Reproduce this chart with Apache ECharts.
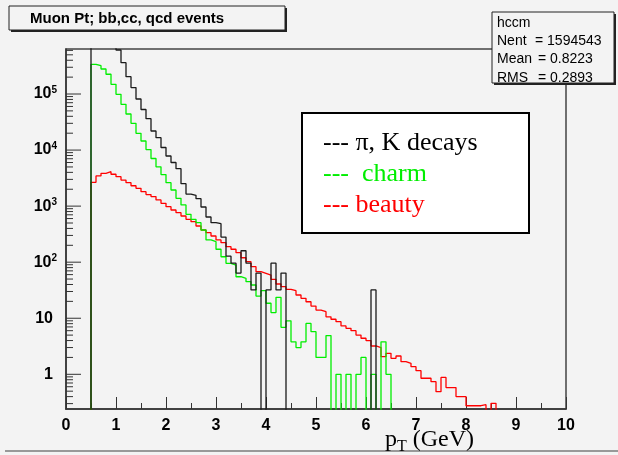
<!DOCTYPE html>
<html><head><meta charset="utf-8">
<script src="https://cdn.jsdelivr.net/npm/echarts@6/dist/echarts.min.js"></script>
<style>html,body{margin:0;padding:0;background:#f3f3f3;} #c{width:618px;height:455px;}</style>
</head><body><div id="c"></div><script>
// Histogram binning (GeV)
const binStart = 0.5;
const binWidth = 0.1;
// pi, K decays (black) — first bins are above the drawn range
const piKValues = [1.5e6, 1.6e6, 1.5e6, 1.25e6, 9.2e5, 6.1e5, 3.62e5, 2.04e5, 1.30e5, 8.15e4,
  5.29e4, 3.63e4, 2.19e4, 1.66e4, 1.11e4, 7840, 6000, 4650, 2510, 1640,
  1560, 1360, 964, 640, 506, 486, 281, 128, 96, 64,
  160, 96, 32, 64, 0, 32, 96, 32, 64, 0,
  0, 0, 0, 0, 0, 0, 0, 0, 0, 0,
  0, 0, 0, 0, 0, 0, 32];
// charm (green)
const charmValues = [3.39e5, 3.20e5, 2.79e5, 2.25e5, 1.49e5, 9.88e4, 6.55e4, 4.40e4, 3.0e4, 1.99e4,
  1.45e4, 1.02e4, 7070, 5020, 3660, 2620, 1940, 1380, 1050, 715,
  582, 506, 375, 249, 232, 170, 125, 95.5, 89, 55,
  51.5, 44.9, 39.2, 24.9, 31, 18.5, 12.6, 23.6, 6.9, 9.0,
  3.8, 3.0, 3.8, 8.1, 5.75, 2.0, 2.0, 4.9, 0, 1,
  0, 1, 0, 1, 2, 0, 1, 0, 3.8, 1];
// beauty (red)
const beautyValues = [2660, 3450, 3850, 4110, 3700, 3350, 2920, 2620, 2310, 2080,
  1810, 1610, 1480, 1290, 1120, 977, 853, 764, 667, 582,
  527, 442, 375, 336, 293, 249, 223, 189, 170, 148,
  120, 102, 83, 67.6, 63.3, 59, 49.5, 40.8, 36.5, 32.8,
  31, 26, 22.7, 19.7, 16.5, 14.0, 13.1, 10.6, 9.6, 8.7,
  7.3, 6.6, 6.0, 5.0, 4.4, 4.0, 3.2, 3.0, 2.06, 2.37,
  1.93, 2.12, 1.68, 1.57, 1.37, 1.16, 0.85, 0.85, 0.74, 0.49,
  0.88, 0.58, 0.58, 0.40, 0.40, 0.275, 0.275, 0.275, 0.287, 0,
  0.304];
// axes
const xMin = 0, xMax = 10, xStep = 1;
const yMin = 0.2405, yMax = 6.35e5;
const yMajorTicks = [1, 10, 100, 1000, 10000, 100000];
const yMinorMultipliers = [2, 3, 4, 5, 6, 7, 8, 9];
const yDecades = [-1, 0, 1, 2, 3, 4, 5];
// texts
const titleText = 'Muon Pt; bb,cc, qcd events';
const statsName = 'hccm';
const statsRows = [['Nent', '= 1594543'], ['Mean', '= 0.8223'], ['RMS', '= 0.2893']];
const legendRows = [['--- \u03c0, K decays', '#000000'], ['---  charm', '#00ee00'], ['--- beauty', '#ff0000']];

const FLOOR = 1e-3; // empty bins drop below the axis floor (log scale cannot show 0)
function histPoints(vals) {
  const pts = [[binStart, FLOOR]];
  vals.forEach((v, i) => {
    const lo = +(binStart + i * binWidth).toFixed(3);
    const hi = +(binStart + (i + 1) * binWidth).toFixed(3);
    const y = v > 0 ? v : FLOOR;
    pts.push([lo, y]); pts.push([hi, y]);
  });
  pts.push([+(binStart + vals.length * binWidth).toFixed(3), FLOOR]);
  return pts;
}

const tickData = [];
yMajorTicks.forEach(v => tickData.push([0, v, 1]));
yDecades.forEach(e => yMinorMultipliers.forEach(m => {
  const v = m * Math.pow(10, e);
  if (v >= yMin && v <= yMax) tickData.push([0, v, 0]);
}));

const chart = echarts.init(document.getElementById('c'), null, {renderer: 'canvas'});
const sansB = 'bold 15px "Liberation Sans", Arial, sans-serif';
const statFont = '14px "Liberation Sans", Arial, sans-serif';
const serif26 = '26px "Liberation Serif", "Times New Roman", serif';

function hist(name, vals, color, z) {
  return {
    name, type: 'line', data: histPoints(vals), symbol: 'none', clip: true,
    lineStyle: {color, width: 1.3}, z, animation: false, silent: true
  };
}

chart.setOption({
  backgroundColor: '#f3f3f3',
  animation: false,
  grid: {left: 66, right: 52, top: 49, bottom: 46, show: true, borderColor: '#444', borderWidth: 1.5, backgroundColor: '#f3f3f3'},
  xAxis: {
    type: 'value', min: xMin, max: xMax, interval: xStep,
    axisLine: {show: true, lineStyle: {color: '#333', width: 1.5}},
    axisTick: {show: true, inside: true, length: 12, lineStyle: {color: '#333'}},
    minorTick: {show: true, splitNumber: 2, length: 6, lineStyle: {color: '#333'}},
    splitLine: {show: false},
    axisLabel: {margin: 9, color: '#000', fontWeight: 'bold', fontSize: 16, fontFamily: '"Liberation Sans", Arial, sans-serif'}
  },
  yAxis: {
    type: 'log', logBase: 10, min: yMin, max: yMax,
    axisLine: {show: true, lineStyle: {color: '#333', width: 1.5}},
    axisTick: {show: false}, splitLine: {show: false}, minorTick: {show: false},
    axisLabel: {
      margin: 9, color: '#000', fontWeight: 'bold', fontSize: 16,
      fontFamily: '"Liberation Sans", Arial, sans-serif',
      showMinLabel: false, showMaxLabel: false,
      formatter: function (v) {
        const lg = Math.log10(v), e = Math.round(lg);
        if (Math.abs(lg - e) > 1e-6 || e < 0) return '';
        if (e === 0) return '1{pad|}';
        if (e === 1) return '10{pad|}';
        return '10{sup|' + e + '}';
      },
      rich: {
        pad: {width: 4},
        sup: {fontSize: 10, fontWeight: 'bold', verticalAlign: 'top', padding: [0, 0, 8, 0], fontFamily: '"Liberation Sans", Arial, sans-serif', color: '#000'}
      }
    }
  },
  series: [
    hist('beauty', beautyValues, '#ff0000', 3),
    hist('charm', charmValues, '#00ee00', 4),
    hist('\u03c0, K decays', piKValues, '#1a1a1a', 5),
    {
      type: 'custom', name: 'yticks', data: tickData, silent: true, clip: false, z: 6,
      renderItem: function (params, api) {
        const p = api.coord([0, api.value(1)]);
        const len = api.value(2) ? 15 : 7;
        return {type: 'line', shape: {x1: p[0], y1: p[1], x2: p[0] + len, y2: p[1]}, style: {stroke: '#333', lineWidth: 1}};
      }
    }
  ],
  graphic: [
    // title box
    {type: 'rect', shape: {x: 11, y: 8, width: 276, height: 24}, style: {fill: '#222'}, z: 10},
    {type: 'rect', shape: {x: 9, y: 6, width: 276, height: 24}, style: {fill: '#f3f3f3', stroke: '#222', lineWidth: 1}, z: 11},
    {type: 'text', x: 30, y: 18.5, style: {text: titleText, font: sansB, fill: '#000', verticalAlign: 'middle'}, z: 12},
    // stats box
    {type: 'rect', shape: {x: 494, y: 14, width: 122, height: 71}, style: {fill: '#222'}, z: 10},
    {type: 'rect', shape: {x: 492, y: 12, width: 122, height: 71}, style: {fill: '#f3f3f3', stroke: '#222', lineWidth: 1}, z: 11},
    {type: 'text', x: 497, y: 23, style: {text: statsName, font: statFont, fill: '#000', verticalAlign: 'middle'}, z: 12},
    ...statsRows.map((r, i) => ({type: 'text', x: 497, y: 41 + i * 18.5, style: {text: r[0], font: statFont, fill: '#000', verticalAlign: 'middle'}, z: 12})),
    ...statsRows.map((r, i) => ({type: 'text', x: i === 0 ? 535 : 538, y: 41 + i * 18.5, style: {text: r[1], font: statFont, fill: '#000', verticalAlign: 'middle'}, z: 12})),
    // legend box
    {type: 'rect', shape: {x: 302, y: 113, width: 227, height: 120}, style: {fill: '#ffffff', stroke: '#000', lineWidth: 2}, z: 10},
    ...legendRows.map((r, i) => ({type: 'text', x: 323, y: 143 + i * 31, style: {text: r[0], font: serif26, fill: r[1], verticalAlign: 'middle'}, z: 12})),
    // x axis title
    {type: 'text', x: 385, y: 439, z: 12, style: {
      text: '{p|p}{s|T}{p| (GeV)}', verticalAlign: 'middle',
      rich: {
        p: {font: '24px "Liberation Serif", "Times New Roman", serif', fill: '#000', lineHeight: 26, verticalAlign: 'bottom'},
        s: {font: '16px "Liberation Serif", "Times New Roman", serif', fill: '#000', lineHeight: 26, verticalAlign: 'bottom', padding: [0, 0, -3, 0]}
      }
    }},
    // bottom canvas edge line
    {type: 'rect', shape: {x: 5, y: 450, width: 613, height: 2}, style: {fill: '#999'}, z: 1}
  ]
});
</script></body></html>
